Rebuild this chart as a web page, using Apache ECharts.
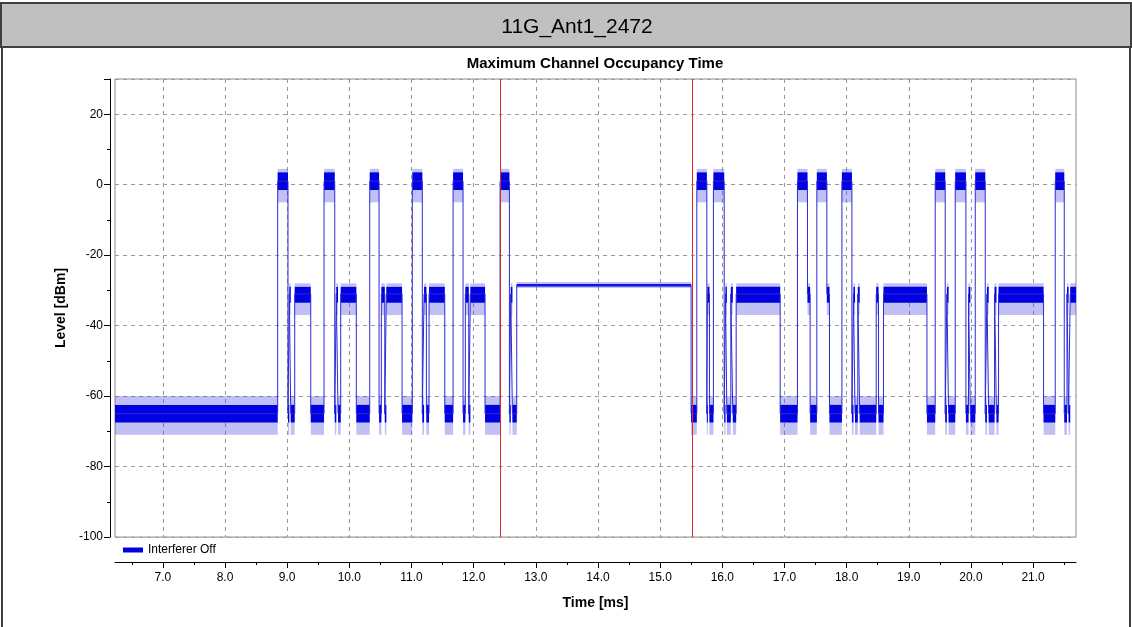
<!DOCTYPE html>
<html>
<head>
<meta charset="utf-8">
<title>11G_Ant1_2472</title>
<script src="https://cdn.jsdelivr.net/npm/echarts@6/dist/echarts.min.js"></script>
<style>
    html, body { margin: 0; padding: 0; background: #fff; }
    #chart { width: 1132px; height: 627px; }
</style>
</head>
<body>
<div id="chart"></div>
<script>
// start time (ms) of each stretch of the trace; it holds its level until the next start
const segStart = [
    6.23, 8.847, 9.013, 9.034, 9.057, 9.121, 9.379,
    9.593, 9.765, 9.790, 9.818, 9.861, 10.112,
    10.328, 10.478, 10.515, 10.570, 10.595, 10.848,
    11.013, 11.174, 11.202, 11.239, 11.282, 11.535,
    11.669, 11.829, 11.866, 11.921, 11.947, 12.183,
    12.425, 12.575, 12.597, 12.623, 12.693, 15.498,
    15.590, 15.751, 15.760, 15.793, 15.857, 16.030, 16.051, 16.073, 16.137, 16.169, 16.223, 16.931,
    17.209, 17.370, 17.413, 17.521, 17.682, 17.724,
    17.924, 18.085, 18.110, 18.135, 18.180, 18.210, 18.476, 18.513, 18.593, 19.292,
    19.425, 19.586, 19.613, 19.640, 19.747, 19.919, 19.961, 19.990,
    20.069, 20.230, 20.257, 20.285, 20.380, 20.410, 20.444, 21.168,
    21.356, 21.501, 21.545, 21.570, 21.597
];
// kind of each stretch: 0 noise floor, 1 burst, 2 plateau, 3 flat occupancy
const segKind = [
    0, 1, 0, 2, 0, 2, 0,
    1, 0, 2, 0, 2, 0,
    1, 0, 2, 0, 2, 0,
    1, 0, 2, 0, 2, 0,
    1, 0, 2, 0, 2, 0,
    1, 0, 2, 0, 3, 0,
    1, 0, 2, 0, 1, 0, 2, 0, 2, 0, 2, 0,
    1, 2, 0, 1, 2, 0,
    1, 0, 2, 0, 2, 0, 2, 0, 2, 0,
    1, 0, 2, 0, 1, 0, 2, 0,
    1, 0, 2, 0, 2, 0, 2, 0,
    1, 0, 2, 0, 2
];
const traceEnd = 21.69;

// level (dBm) per kind, with the dense noise core and the spike extent
const kindLevel = [-65, 1, -31, -28.5];
const kindCoreLow = [-67.5, -1.5, -33.5, -28.9];
const kindCoreHigh = [-62.5, 3.5, -29, -28.2];
const kindSpikeLow = [-71, -5, -37, -29.3];
const kindSpikeHigh = [-60, 4.5, -28, -27.6];

const markerTimes = [12.42, 15.51];
const timeTicks = [7, 8, 9, 10, 11, 12, 13, 14, 15, 16, 17, 18, 19, 20, 21];
const timeMinorTicks = [6.5, 7.5, 8.5, 9.5, 10.5, 11.5, 12.5, 13.5, 14.5, 15.5, 16.5, 17.5, 18.5, 19.5, 20.5, 21.5];

const sans = '"Liberation Sans", Arial, sans-serif';
const chart = echarts.init(document.getElementById("chart"));

const traceData = [];
const bandData = [];
segStart.forEach(function (t0, i) {
    const t1 = i + 1 < segStart.length ? segStart[i + 1] : traceEnd;
    const k = segKind[i];
    traceData.push([t0, kindLevel[k]], [t1, kindLevel[k]]);
    bandData.push([t0, t1, kindCoreLow[k], kindCoreHigh[k], kindSpikeLow[k], kindSpikeHigh[k]]);
});

function renderBand(params, api) {
    const t0 = api.value(0);
    const t1 = api.value(1);
    const outerTop = api.coord([t0, api.value(5)]);
    const outerBottom = api.coord([t1, api.value(4)]);
    const coreTop = api.coord([t0, api.value(3)]);
    const coreBottom = api.coord([t1, api.value(2)]);
    const w = Math.max(outerBottom[0] - outerTop[0], 1);
    return {
        type: "group",
        children: [
            {
                type: "rect",
                shape: {x: outerTop[0], y: outerTop[1], width: w, height: outerBottom[1] - outerTop[1]},
                style: {fill: "rgba(60,60,220,0.32)"}
            },
            {
                type: "rect",
                shape: {x: coreTop[0], y: coreTop[1], width: w, height: coreBottom[1] - coreTop[1]},
                style: {fill: "#0000e0"}
            }
        ]
    };
}

const option = {
    animation: false,
    backgroundColor: "#fff",
    graphic: [
        {type: "rect", shape: {x: 1, y: 3, width: 1130, height: 44}, style: {fill: "#c0c0c0", stroke: "#404040", lineWidth: 2}},
        {type: "line", shape: {x1: 2, y1: 47, x2: 2, y2: 627}, style: {stroke: "#404040", lineWidth: 2}},
        {type: "line", shape: {x1: 1130, y1: 47, x2: 1130, y2: 627}, style: {stroke: "#404040", lineWidth: 2}},
        {
            type: "text", x: 577, y: 27,
            style: {text: "11G_Ant1_2472", align: "center", verticalAlign: "middle", fill: "#000", font: "21px " + sans}
        },
        {
            type: "text", x: 595, y: 64,
            style: {text: "Maximum Channel Occupancy Time", align: "center", verticalAlign: "middle", fill: "#000", font: "bold 15px " + sans}
        }
    ],
    legend: {
        left: 118,
        top: 539,
        icon: "rect",
        itemWidth: 20,
        itemHeight: 5,
        itemGap: 4,
        data: ["Interferer Off"],
        textStyle: {color: "#000", fontSize: 12, fontFamily: sans}
    },
    grid: {
        left: 115,
        top: 79,
        right: 56,
        bottom: 90,
        show: true,
        borderColor: "#8c8c8c",
        borderWidth: 1,
        backgroundColor: "#fff"
    },
    xAxis: [
        {
            type: "value",
            min: 6.23,
            max: 21.69,
            position: "bottom",
            offset: 25,
            axisLine: {show: true, onZero: false, lineStyle: {color: "#000", width: 1}},
            axisTick: {show: true, length: 6, customValues: timeTicks, lineStyle: {color: "#000"}},
            axisLabel: {
                customValues: timeTicks,
                margin: 10,
                color: "#000",
                fontSize: 12,
                fontFamily: sans,
                formatter: function (v) {
                    return v.toFixed(1);
                }
            },
            splitLine: {show: true, lineStyle: {color: "#9a9a9a", type: [4, 4]}},
            name: "Time [ms]",
            nameLocation: "middle",
            nameGap: 34,
            nameTextStyle: {color: "#000", fontWeight: "bold", fontSize: 14, fontFamily: sans}
        },
        {
            type: "value",
            min: 6.23,
            max: 21.69,
            position: "bottom",
            offset: 25,
            axisLine: {show: false, onZero: false},
            axisTick: {show: true, length: 3, customValues: timeMinorTicks, lineStyle: {color: "#000"}},
            axisLabel: {show: false},
            splitLine: {show: false}
        }
    ],
    yAxis: {
        type: "value",
        min: -100,
        max: 30,
        interval: 20,
        position: "left",
        offset: 5,
        axisLine: {show: true, onZero: false, lineStyle: {color: "#000", width: 1}},
        axisTick: {show: true, length: 6, lineStyle: {color: "#000"}},
        minorTick: {show: true, splitNumber: 2, length: 3, lineStyle: {color: "#000"}},
        axisLabel: {
            margin: 7,
            color: "#000",
            fontSize: 12,
            fontFamily: sans,
            formatter: function (v) {
                return v === 30 ? "" : String(v);
            }
        },
        splitLine: {show: true, lineStyle: {color: "#9a9a9a", type: [4, 4]}},
        name: "Level [dBm]",
        nameLocation: "middle",
        nameGap: 33,
        nameTextStyle: {color: "#000", fontWeight: "bold", fontSize: 14, fontFamily: sans}
    },
    series: [
        {
            name: "noise band",
            type: "custom",
            xAxisIndex: 0,
            renderItem: renderBand,
            encode: {x: [0, 1], y: [2, 3, 4, 5]},
            clip: true,
            silent: true,
            data: bandData
        },
        {
            name: "Interferer Off",
            type: "line",
            xAxisIndex: 0,
            data: traceData,
            showSymbol: false,
            symbol: "none",
            clip: true,
            color: "#0000e0",
            lineStyle: {color: "#2a2ad8", width: 1},
            markLine: {
                silent: true,
                symbol: ["none", "none"],
                label: {show: false},
                lineStyle: {color: "#e02828", width: 1, type: "solid"},
                data: markerTimes.map(function (t) {
                    return {xAxis: t, lineStyle: {color: "#e02828"}};
                })
            }
        }
    ]
};
chart.setOption(option);
</script>
</body>
</html>
